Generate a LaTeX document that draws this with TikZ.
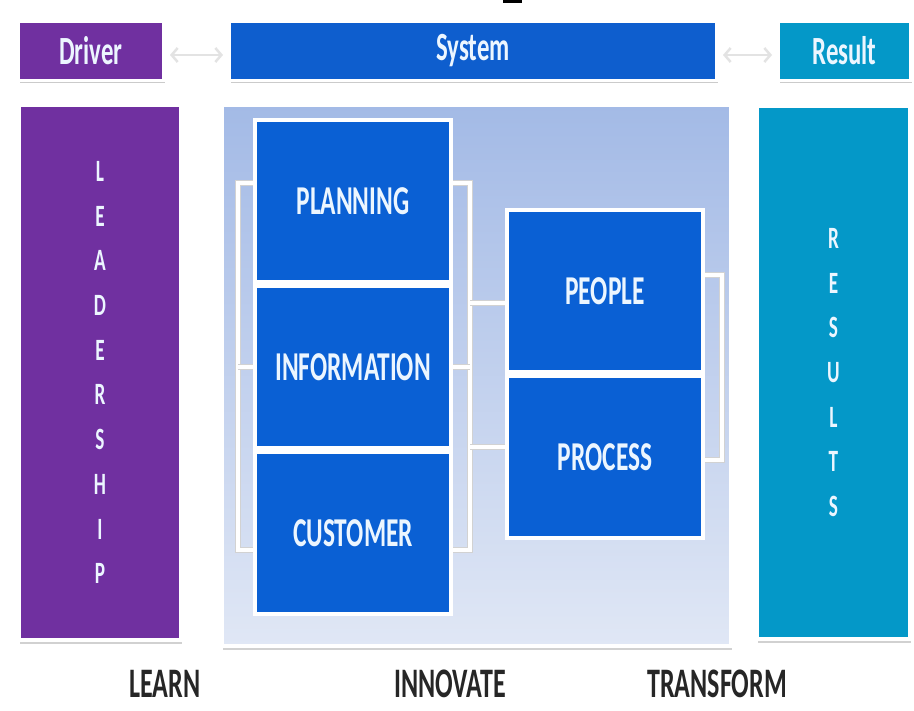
\documentclass[tikz,border=0pt]{standalone}
\usepackage{fontspec}
\setmainfont{Carlito}[FakeStretch=0.62]
\usetikzlibrary{positioning,shadows,arrows.meta}
\definecolor{purp}{RGB}{112,48,160}
\definecolor{sysblue}{RGB}{14,94,206}
\definecolor{boxblue}{RGB}{10,96,212}
\definecolor{resteal}{RGB}{4,152,200}
\definecolor{txtw}{RGB}{236,246,255}
\definecolor{pantop}{RGB}{163,186,230}
\definecolor{panbot}{RGB}{224,231,245}
\begin{document}
\begin{tikzpicture}[x=1pt,y=-1pt,
  hdr/.style={draw=white,line width=3pt,text=txtw,minimum height=59,
    font=\fontsize{40}{40}\selectfont\bfseries,
    drop shadow={shadow xshift=1pt,shadow yshift=-3pt,fill=black!45,opacity=.45}},
  pan/.style={draw=white,line width=4pt,text=txtw,align=center,
    font=\fontsize{31}{44.7}\selectfont\bfseries,
    drop shadow={shadow xshift=1pt,shadow yshift=-4pt,fill=black!45,opacity=.4}},
  bx/.style={fill=boxblue,draw=white,line width=4pt,text=txtw,
    minimum width=196,minimum height=162,
    font=\fontsize{41}{41}\selectfont\bfseries,
    drop shadow={shadow xshift=1pt,shadow yshift=-2pt,fill=black!50,opacity=.4}},
  brk/.style={draw=gray!35,line width=.8pt,double=white,double distance=3.5pt},
  harr/.style={{Straight Barb[length=6pt,width=14pt]}-{Straight Barb[length=6pt,width=14pt]},
    draw=gray!22,line width=2.5pt},
  lbl/.style={text=black!85,inner sep=0pt,font=\fontsize{42}{42}\selectfont\bfseries}]
\useasboundingbox (0,0) rectangle (914,711);
\fill[white] (0,0) rectangle (914,711);
\fill[black] (503,0) rectangle (522,3);

% headers
\node[hdr,fill=purp,minimum width=145] (drv) at (91,51) {Driver};
\node[hdr,fill=sysblue,minimum width=487] (sys) at (473,51) {System};
\node[hdr,fill=resteal,minimum width=132] (res) at (844.5,51) {Result};
\draw[harr] ([xshift=5pt,yshift=-4pt]drv.east) -- ([xshift=-5pt,yshift=-4pt]sys.west);
\draw[harr] ([xshift=5pt,yshift=-4pt]sys.east) -- ([xshift=-5pt,yshift=-4pt]res.west);

% panels
\node[pan,fill=purp,minimum width=162,minimum height=535] (leadp) at (100,372.5)
  {L\\E\\A\\D\\E\\R\\S\\H\\I\\P};
\node[pan,top color=pantop,bottom color=panbot,minimum width=509,minimum height=541] (sysp) at (476.5,375.5) {};
\node[pan,fill=resteal,minimum width=153,minimum height=533] (resp) at (833.5,372.5)
  {R\\E\\S\\U\\L\\T\\S};

% boxes
\node[bx] (plan) at (353,201) {PLANNING};
\node[bx,below=0pt of plan] (info) {INFORMATION};
\node[bx,below=0pt of info] (cust) {CUSTOMER};
\node[bx] (peop) at (605,291) {PEOPLE};
\node[bx,below=0pt of peop] (proc) {PROCESS};

% brackets
\draw[brk] (plan.west |- 0,183) -| (238,550) -- (cust.west |- 0,550);
\draw[brk] (238,367) -- (info.west |- 0,367);
\draw[brk] (plan.east |- 0,183) -| (470,550) -- (cust.east |- 0,550);
\draw[brk] (470,367) -- (info.east |- 0,367);
\draw[brk] (470,303) -- (peop.west |- 0,303);
\draw[brk] (470,447) -- (proc.west |- 0,447);
\draw[brk] (peop.east |- 0,275) -| (722,460) -- (proc.east |- 0,460);

% bottom words
\node[lbl] (lrn) at (165,684) {LEARN};
\node[lbl] (inv) at (450,684) {INNOVATE};
\node[lbl] (trf) at (717,684) {TRANSFORM};
\end{tikzpicture}
\end{document}
